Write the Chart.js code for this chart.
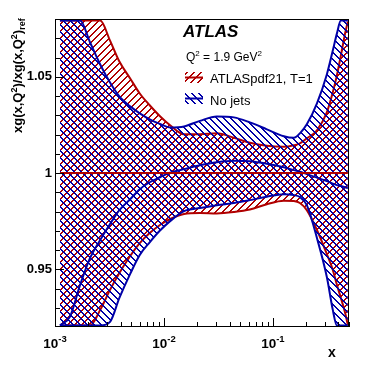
<!DOCTYPE html>
<html>
<head>
<meta charset="utf-8">
<script src="https://cdn.jsdelivr.net/npm/chart.js@4"></script>
<style>
  body { margin: 0; background: #fff; }
</style>
</head>
<body>
<canvas id="grafico" width="368" height="365"></canvas>
<script>
// x grid shared by all curves
const xValues = [0.00111, 0.00137, 0.0017, 0.0021, 0.0026, 0.0032, 0.0039, 0.0049, 0.006, 0.0074,
                 0.0092, 0.0114, 0.0153, 0.0214, 0.0306, 0.0439, 0.0615, 0.0881, 0.126, 0.156,
                 0.177, 0.205, 0.254, 0.313, 0.355, 0.387, 0.421, 0.458, 0.488];

// ATLASpdf21, T=1 band
const redUpper = [1.0792, 1.0792, 1.0792, 1.0792, 1.0792, 1.0688, 1.0579, 1.0491, 1.0413, 1.0352,
                  1.0295, 1.0248, 1.0201, 1.0201, 1.0206, 1.0183, 1.0157, 1.0141, 1.0136, 1.0144,
                  1.0154, 1.018, 1.0222, 1.0315, 1.0419, 1.0507, 1.061, 1.0719, 1.0787];
const redLower = [0.9208, 0.9208, 0.9208, 0.9208, 0.9289, 0.9393, 0.9481, 0.9569, 0.9636, 0.9688,
                  0.973, 0.9761, 0.9787, 0.9792, 0.979, 0.9797, 0.981, 0.9838, 0.9856, 0.9854,
                  0.9844, 0.9807, 0.9704, 0.9579, 0.9497, 0.9419, 0.9351, 0.9279, 0.9211];
const redCentral = [1, 1, 1, 1, 1, 1, 1, 1, 1, 1, 1, 1, 1, 1, 1, 1, 1, 1, 1, 1,
                    1, 1, 1, 1, 1, 1, 1, 1, 1];

// No jets band
const blueUpper = [1.0792, 1.0792, 1.0792, 1.0678, 1.0564, 1.047, 1.0398, 1.0346, 1.031, 1.0279,
                   1.0255, 1.0237, 1.0242, 1.0271, 1.0294, 1.0289, 1.0263, 1.0227, 1.0191, 1.0183,
                   1.0206, 1.0253, 1.0362, 1.0512, 1.0636, 1.0724, 1.0792, 1.0792, 1.0792];
const blueLower = [0.9208, 0.9208, 0.9208, 0.9208, 0.9208, 0.9227, 0.9351, 0.9476, 0.9574, 0.9640,
                   0.9701, 0.975, 0.9802, 0.9818, 0.9833, 0.9844, 0.9859, 0.9877, 0.989, 0.9885,
                   0.9875, 0.9833, 0.9662, 0.946, 0.9289, 0.9208, 0.9208, 0.9208, 0.9208];
const blueCentral = [0.9208, 0.9253, 0.9419, 0.9559, 0.9652, 0.9735, 0.9807, 0.9864, 0.9916, 0.9952,
                     0.9978, 1.0002, 1.002, 1.004, 1.0056, 1.0064, 1.0061, 1.0048, 1.003, 1.0015,
                     1.0007, 0.9994, 0.9976, 0.9958, 0.9945, 0.9937, 0.9932, 0.9926, 0.9921];

const serieNomi = ['ATLASpdf21, T=1', 'No jets'];
const xMajorExp = [-3, -2, -1];
const yMajorLabels = ['0.95', '1', '1.05'];
const yMajorValues = [0.95, 1, 1.05];

const ROSSO = '#b00000';
const BLU = '#0000a8';
const FONT = '"Liberation Sans", Arial, Helvetica, sans-serif';

// crisp pixel hatch, 2px wide strokes every 7px
function tratteggio(colore, verso) {
    const s = 7;
    const c = document.createElement('canvas');
    c.width = s; c.height = s;
    const g = c.getContext('2d');
    g.fillStyle = colore;
    for (let y = 0; y < s; y++) {
        const x0 = verso > 0 ? (s - 1 - y) : y;
        g.fillRect(x0, y, 1, 1);
        g.fillRect((x0 + 1) % s, y, 1, 1);
    }
    return g.createPattern(c, 'repeat');
}

const hatchRosso = tratteggio(ROSSO, 1);
const hatchBlu = tratteggio(BLU, -1);

function punti(ys) {
    return xValues.map((x, i) => ({ x: x, y: ys[i] }));
}

// draws text pieces one after another: [text, size, dy]
function testoComposto(ctx, parti, x, y, bold) {
    let cx = x;
    for (const [t, size, dy] of parti) {
        ctx.font = (bold ? 'bold ' : '') + size + 'px ' + FONT;
        ctx.fillText(t, cx, y + dy);
        cx += ctx.measureText(t).width;
    }
    return cx - x;
}

function larghezzaComposto(ctx, parti, bold) {
    let w = 0;
    for (const [t, size] of parti) {
        ctx.font = (bold ? 'bold ' : '') + size + 'px ' + FONT;
        w += ctx.measureText(t).width;
    }
    return w;
}

const decorazioni = {
    id: 'decorazioni',
    afterDraw(chart) {
        const ctx = chart.ctx;
        const a = chart.chartArea;
        const xs = chart.scales.x;
        const ys = chart.scales.y;
        ctx.save();
        ctx.fillStyle = '#000';
        ctx.strokeStyle = '#000';
        ctx.lineWidth = 1;

        // frame
        ctx.strokeRect(a.left + 0.5, a.top + 0.5, a.right - a.left - 1, a.bottom - a.top - 1);

        // x ticks (inside)
        ctx.beginPath();
        for (const e of xMajorExp) {
            for (let m = 1; m <= 9; m++) {
                const v = m * Math.pow(10, e);
                if (v > xs.max) break;
                const px = Math.round(xs.getPixelForValue(v)) + 0.5;
                const len = m === 1 ? 9 : 5;
                ctx.moveTo(px, a.bottom);
                ctx.lineTo(px, a.bottom - len);
            }
        }
        // y ticks (inside)
        for (let k = 93; k <= 107; k++) {
            const v = k / 100;
            const py = Math.round(ys.getPixelForValue(v)) + 0.5;
            const len = (k % 5 === 0) ? 9 : 5;
            ctx.moveTo(a.left, py);
            ctx.lineTo(a.left + len, py);
        }
        ctx.stroke();

        // y tick labels
        ctx.textAlign = 'right';
        ctx.textBaseline = 'middle';
        ctx.font = 'bold 13px ' + FONT;
        yMajorLabels.forEach((lab, i) => {
            ctx.fillText(lab, a.left - 3, ys.getPixelForValue(yMajorValues[i]));
        });

        // x tick labels 10^e
        ctx.textAlign = 'left';
        ctx.textBaseline = 'alphabetic';
        for (const e of xMajorExp) {
            const parti = [['10', 13.5, 0], ['-' + Math.abs(e), 9.5, -6.5]];
            const w = larghezzaComposto(ctx, parti, true);
            const px = xs.getPixelForValue(Math.pow(10, e));
            testoComposto(ctx, parti, px - w / 2, 348, true);
        }

        // axis titles
        ctx.font = 'bold 14px ' + FONT;
        ctx.textAlign = 'center';
        ctx.fillText('x', 332, 357);
        ctx.textAlign = 'left';
        ctx.save();
        ctx.translate(22, 133);
        ctx.rotate(-Math.PI / 2);
        testoComposto(ctx, [['xg(x,Q', 13, 0], ['2', 9, -5], [')/xg(x,Q', 13, 0], ['2', 9, -5], [')', 13, 0], ['ref', 9, 3]], 0, 0, true);
        ctx.restore();

        // ATLAS label and Q2
        ctx.font = 'italic bold 17px ' + FONT;
        ctx.fillText('ATLAS', 183, 37);
        testoComposto(ctx, [['Q', 12, 0], ['2', 8, -5], [' = 1.9 GeV', 12, 0], ['2', 8, -5]], 186, 61, false);

        // legend
        const voci = [[hatchRosso, ROSSO, 72, 83], [hatchBlu, BLU, 93, 104.5]];
        voci.forEach(([pat, col, top, base], i) => {
            ctx.fillStyle = pat;
            ctx.fillRect(185, top, 18, 11);
            ctx.strokeStyle = col;
            ctx.lineWidth = 2;
            ctx.beginPath();
            ctx.moveTo(185, top + 5.5);
            ctx.lineTo(203, top + 5.5);
            ctx.stroke();
            ctx.fillStyle = '#000';
            ctx.font = '13px ' + FONT;
            ctx.fillText(serieNomi[i], 210, base);
        });
        ctx.restore();
    }
};

const base = { pointRadius: 0, borderWidth: 2, cubicInterpolationMode: 'monotone', fill: false };

new Chart(document.getElementById('grafico').getContext('2d'), {
    type: 'line',
    data: {
        datasets: [
            { ...base, label: serieNomi[0], data: punti(redCentral), borderColor: ROSSO },
            { ...base, label: serieNomi[1], data: punti(blueCentral), borderColor: BLU },
            { ...base, label: serieNomi[1] + ' up', data: punti(blueUpper), borderColor: BLU, fill: 3, backgroundColor: hatchBlu },
            { ...base, label: serieNomi[1] + ' down', data: punti(blueLower), borderColor: BLU },
            { ...base, label: serieNomi[0] + ' up', data: punti(redUpper), borderColor: ROSSO, fill: 5, backgroundColor: hatchRosso },
            { ...base, label: serieNomi[0] + ' down', data: punti(redLower), borderColor: ROSSO }
        ]
    },
    options: {
        responsive: false,
        animation: false,
        layout: { padding: { top: 19, right: 19, left: 0, bottom: 0 } },
        scales: {
            x: {
                type: 'logarithmic',
                min: 0.001,
                max: 0.5,
                ticks: { display: false },
                grid: { display: false },
                border: { display: false },
                afterFit: function(scale) { scale.height = 38; }
            },
            y: {
                min: 0.92,
                max: 1.08,
                ticks: { display: false },
                grid: { display: false },
                border: { display: false },
                afterFit: function(scale) { scale.width = 55; }
            }
        },
        plugins: {
            legend: { display: false },
            tooltip: { enabled: false }
        }
    },
    plugins: [decorazioni]
});
</script>
</body>
</html>
